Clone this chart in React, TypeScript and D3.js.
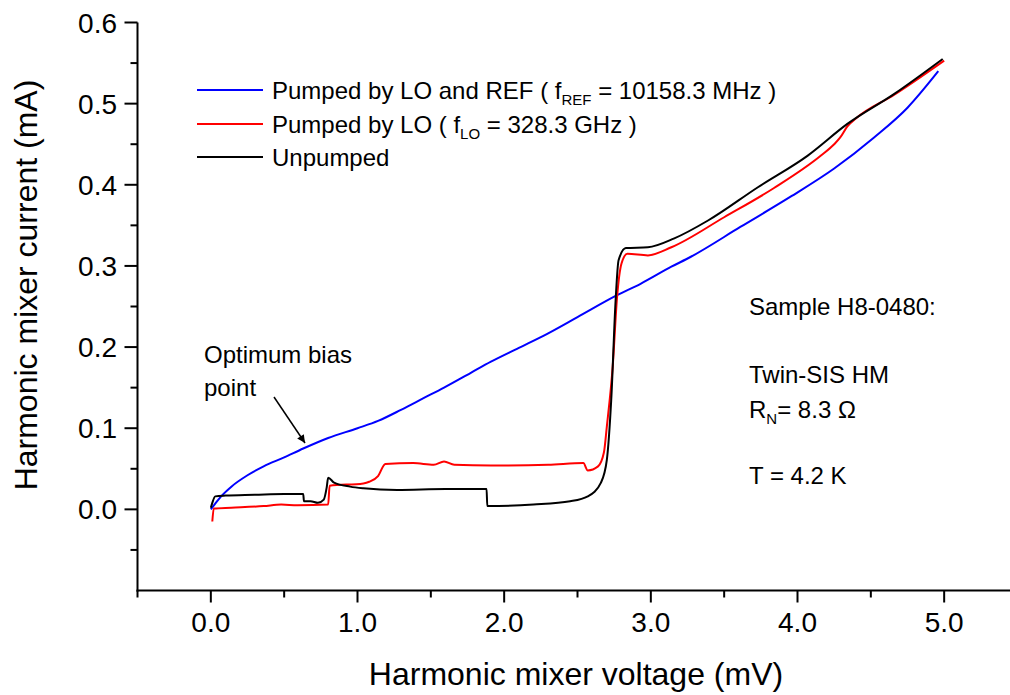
import React from "react";
import * as d3 from "d3";

const blueSeries: [number, number][] = [
  [0.0, 0.0], [0.03, 0.007], [0.07, 0.016], [0.14, 0.028], [0.25, 0.042], [0.36, 0.053], [0.5, 0.064],
  [0.63, 0.075], [0.8, 0.088], [1.0, 0.1], [1.14, 0.109], [1.3, 0.123], [1.45, 0.137],
  [1.59, 0.15], [1.77, 0.168], [1.91, 0.182], [2.1, 0.199], [2.3, 0.217], [2.5, 0.237],
  [2.77, 0.264], [2.93, 0.278], [3.14, 0.299], [3.27, 0.311], [3.61, 0.348], [3.95, 0.385],
  [4.25, 0.42], [4.52, 0.458], [4.75, 0.495], [4.96, 0.54],
];

const redSeries: [number, number][] = [
  [0.01, -0.015], [0.02, 0.001], [0.14, 0.002], [0.36, 0.004], [0.48, 0.006], [0.59, 0.005],
  [0.8, 0.006], [0.81, 0.029], [1.04, 0.032], [1.08, 0.034], [1.14, 0.041], [1.19, 0.056],
  [1.38, 0.057], [1.52, 0.055], [1.59, 0.059], [1.66, 0.055], [1.91, 0.054], [2.3, 0.055],
  [2.54, 0.057], [2.57, 0.048], [2.64, 0.053], [2.68, 0.07], [2.7, 0.102], [2.74, 0.176],
  [2.77, 0.262], [2.8, 0.303], [2.84, 0.315], [2.98, 0.313], [3.14, 0.323], [3.5, 0.36],
  [3.84, 0.396], [4.16, 0.436], [4.25, 0.45], [4.29, 0.458], [4.34, 0.472], [4.4, 0.482],
  [4.66, 0.511], [5.0, 0.553],
];

const blackSeries: [number, number][] = [
  [0.0, 0.002], [0.01, 0.008], [0.03, 0.016], [0.1, 0.017], [0.3, 0.018], [0.5, 0.019],
  [0.63, 0.019], [0.635, 0.01], [0.68, 0.01], [0.73, 0.008], [0.77, 0.012], [0.79, 0.027],
  [0.8, 0.039], [0.84, 0.033], [0.95, 0.028], [1.04, 0.026], [1.27, 0.024], [1.6, 0.025],
  [1.88, 0.025], [1.885, 0.004], [2.2, 0.006], [2.45, 0.01], [2.57, 0.016], [2.66, 0.033],
  [2.7, 0.061], [2.73, 0.135], [2.76, 0.258], [2.78, 0.307], [2.83, 0.322], [2.98, 0.323],
  [3.16, 0.334], [3.39, 0.356], [3.73, 0.397], [4.07, 0.436], [4.34, 0.475], [4.66, 0.512],
  [4.99, 0.555],
];

const xTicks = [0, 1, 2, 3, 4, 5];
const xMinorTicks = [-0.5, 0.5, 1.5, 2.5, 3.5, 4.5];
const yTicks = [0, 0.1, 0.2, 0.3, 0.4, 0.5, 0.6];
const yMinorTicks = [-0.05, 0.05, 0.15, 0.25, 0.35, 0.45, 0.55];

const FONT = "'Liberation Sans', Arial, sans-serif";

export default function App() {
  const x = d3.scaleLinear().domain([-0.5, 5.5]).range([137.5, 1017.5]);
  const y = d3.scaleLinear().domain([-0.1, 0.6]).range([590.5, 22.5]);
  const line = d3
    .line<[number, number]>()
    .x((d) => x(d[0]))
    .y((d) => y(d[1]))
    .curve(d3.curveMonotoneX);

  const axisX = x(-0.5);
  const axisY = y(-0.1);

  const series = [
    { data: blueSeries, color: "#0000ff" },
    { data: redSeries, color: "#ff0000" },
    { data: blackSeries, color: "#000000" },
  ];

  return (
    <svg
      width={1010}
      height={695}
      style={{ position: "absolute", left: 0, top: 0, background: "#fff" }}
      fontFamily={FONT}
    >
      <defs>
        <marker id="arrowHead" viewBox="0 0 10 10" refX="10" refY="5" markerWidth="10" markerHeight="8" markerUnits="userSpaceOnUse" orient="auto">
          <path d="M0,0 L10,5 L0,10 z" fill="#000" />
        </marker>
      </defs>
      <rect x={0} y={0} width={1010} height={695} fill="#fff" />

      {series.map((s, i) => (
        <path key={i} d={line(s.data) || ""} fill="none" stroke={s.color} strokeWidth={2} strokeLinejoin="round" />
      ))}

      <line x1={axisX} y1={y(0.6)} x2={axisX} y2={axisY + 1} stroke="#000" strokeWidth={2} />
      <line x1={axisX - 1} y1={axisY} x2={1010} y2={axisY} stroke="#000" strokeWidth={2} />

      {yTicks.map((t) => (
        <g key={"yt" + t}>
          <line x1={axisX - 13} x2={axisX} y1={y(t)} y2={y(t)} stroke="#000" strokeWidth={2} />
          <text x={117} y={y(t)} dy="0.36em" textAnchor="end" fontSize={28}>
            {t.toFixed(1)}
          </text>
        </g>
      ))}
      {yMinorTicks.map((t) => (
        <line key={"ym" + t} x1={axisX - 7} x2={axisX} y1={y(t)} y2={y(t)} stroke="#000" strokeWidth={2} />
      ))}
      {xTicks.map((t) => (
        <g key={"xt" + t}>
          <line x1={x(t)} x2={x(t)} y1={axisY} y2={axisY + 12} stroke="#000" strokeWidth={2} />
          <text x={x(t)} y={631.5} textAnchor="middle" fontSize={28}>
            {t.toFixed(1)}
          </text>
        </g>
      ))}
      {xMinorTicks.map((t) => (
        <line key={"xm" + t} x1={x(t)} x2={x(t)} y1={axisY} y2={axisY + 7} stroke="#000" strokeWidth={2} />
      ))}

      <text x={576} y={685} textAnchor="middle" fontSize={32}>
        Harmonic mixer voltage (mV)
      </text>
      <text transform="translate(37,285) rotate(-90)" textAnchor="middle" fontSize={32}>
        Harmonic mixer current (mA)
      </text>

      <line x1={197} x2={263} y1={90} y2={90} stroke="#0000ff" strokeWidth={2} />
      <text x={272} y={99} fontSize={24}>
        Pumped by LO and REF ( f<tspan fontSize={15} dy={6}>REF</tspan>
        <tspan dy={-6}> = 10158.3 MHz )</tspan>
      </text>
      <line x1={197} x2={263} y1={124} y2={124} stroke="#ff0000" strokeWidth={2} />
      <text x={272} y={133} fontSize={24}>
        Pumped by LO ( f<tspan fontSize={15} dy={6}>LO</tspan>
        <tspan dy={-6}> = 328.3 GHz )</tspan>
      </text>
      <line x1={197} x2={263} y1={157} y2={157} stroke="#000" strokeWidth={2} />
      <text x={272} y={166} fontSize={24}>
        Unpumped
      </text>

      <text x={204} y={363} fontSize={24}>Optimum bias</text>
      <text x={204} y={396} fontSize={24}>point</text>
      <line x1={274} y1={397} x2={305} y2={443} stroke="#000" strokeWidth={1.5} markerEnd="url(#arrowHead)" />

      <text x={749} y={315} fontSize={24}>Sample H8-0480:</text>
      <text x={749} y={383} fontSize={24}>Twin-SIS HM</text>
      <text x={749} y={418} fontSize={24}>
        R<tspan fontSize={15} dy={6}>N</tspan>
        <tspan dy={-6}>= 8.3 Ω</tspan>
      </text>
      <text x={749} y={484} fontSize={24}>T = 4.2 K</text>
    </svg>
  );
}
